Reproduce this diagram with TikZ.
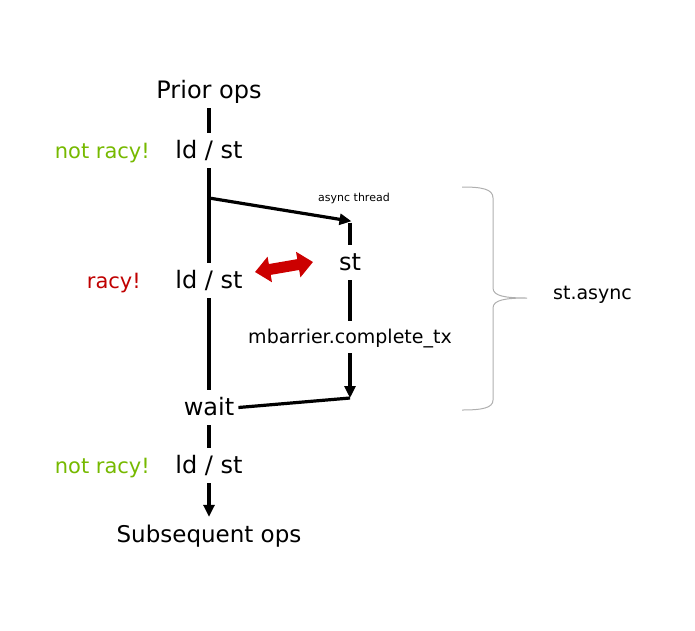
\documentclass[tikz,border=0pt]{standalone}
\usepackage{fontspec}
\setmainfont{DejaVu Sans}
\usetikzlibrary{arrows.meta}
\definecolor{nvgreen}{RGB}{118,185,0}
\definecolor{racyred}{RGB}{192,0,0}
\definecolor{arrred}{RGB}{204,0,0}
\definecolor{bracegray}{RGB}{175,175,175}
\tikzset{
  big/.style={font=\fontsize{24}{28}\selectfont, inner sep=4pt, text height=21pt, text depth=6pt, anchor=base},
  mid/.style={font=\fontsize{19}{23}\selectfont, inner sep=4pt, text height=18pt, text depth=6pt, anchor=base},
  lbl/.style={font=\fontsize{21}{25}\selectfont, inner sep=0pt, anchor=base east},
  small/.style={font=\fontsize{11}{13}\selectfont, inner sep=0pt, anchor=base west},
  mainline/.style={line width=4pt},
  thread/.style={line width=3.2pt},
  tip/.style={-{Triangle[length=12pt,width=11pt]}},
}
\begin{document}
\begin{tikzpicture}[x=1pt,y=-1pt]
\useasboundingbox (0,0) rectangle (695,630);
% main thread nodes
\node[big] (prior) at (209,98) {Prior ops};
\node[big] (ld1) at (209,158) {ld / st};
\node[big] (ld2) at (209,288) {ld / st};
\node[big] (wait) at (209,415) {wait};
\node[big] (ld3) at (209,473) {ld / st};
\node[big, font=\fontsize{23}{27}\selectfont] (subs) at (209,542) {Subsequent ops};
% side labels
\node[lbl, text=nvgreen] (nr1) at (150,158) {not racy!};
\node[lbl, text=racyred] (r2) at (141,288) {racy!};
\node[lbl, text=nvgreen] (nr3) at (150,473) {not racy!};
% async thread nodes
\node[big] (st) at (350,270) {st};
\node[mid] (mb) at (350,343) {mbarrier.complete\_tx};
\node[small] (at) at (318,201) {async thread};
\node[mid, anchor=base west, inner sep=0pt] (sa) at (553,299) {st.async};
\coordinate (fork) at (209,198);
\coordinate (ast) at (350,221);
\coordinate (cend) at (350,398);
% main line
\draw[mainline] (prior) -- (ld1);
\draw[mainline] (ld1) -- (ld2);
\draw[mainline] (ld2) -- (wait);
\draw[mainline] (wait) -- (ld3);
\draw[mainline, tip] (ld3) -- (subs);
% async path
\draw[thread, tip, shorten >=-1.5pt] (fork) -- (ast);
\draw[thread] ([yshift=-1.5pt]ast) -- (st);
\draw[thread] (st) -- (mb);
\draw[thread, tip] (mb) -- (cend);
\draw[thread] (cend) -- (wait.east);
% red double arrow
\coordinate (ra1) at (255,272);
\coordinate (ra2) at (313,262);
\draw[line width=11pt, draw=arrred, {Triangle[length=15pt,width=25pt]}-{Triangle[length=15pt,width=25pt]}] (ra1) -- (ra2);
% brace
\draw[bracegray, line width=1pt] (462,187) .. controls (482,187) and (493,189) .. (493,198) -- (493,288)
  .. controls (493,296) and (505,298) .. (527,298)
  .. controls (505,298) and (493,300) .. (493,308) -- (493,400)
  .. controls (493,408) and (482,410) .. (462,410);
\end{tikzpicture}
\end{document}
